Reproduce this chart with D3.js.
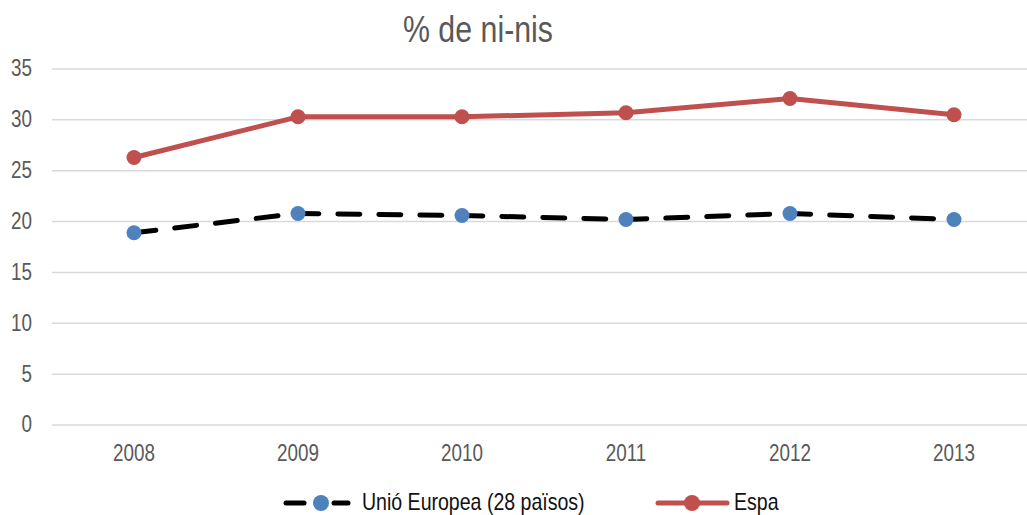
<!DOCTYPE html>
<html>
<head>
<meta charset="utf-8">
<script src="https://cdn.jsdelivr.net/npm/d3@7"></script>
<style>
  body { margin: 0; background: #fff; }
  text { font-family: "Liberation Sans", Arial, sans-serif; fill: #595959; }
</style>
</head>
<body>
<svg id="chart" width="1027" height="515"></svg>
<script>
const years = ['2008', '2009', '2010', '2011', '2012', '2013']
const euValues = [18.9, 20.8, 20.6, 20.2, 20.8, 20.2]
const spainValues = [26.3, 30.3, 30.3, 30.7, 32.1, 30.5]
const yTicks = [0, 5, 10, 15, 20, 25, 30, 35]
const seriesNames = ['Unió Europea (28 països)', 'Espa']

const width = 1027
const height = 515
const narrow = 0.82  // no Arial Narrow here, so squeeze Liberation Sans
const svg = d3.select('#chart')

const x = d3.scaleBand().domain(years).range([52, 1036])
const y = d3.scaleLinear().domain([0, 35]).range([425, 69])

// title
svg.append('text').attr('transform', `translate(478,42) scale(${narrow},1)`)
    .attr('text-anchor', 'middle')
    .style('font-size', '37px').text('% de ni-nis')

// grid
svg.append('g').selectAll('line').data(yTicks).enter().append('line')
    .attr('x1', 52).attr('x2', width)
    .attr('y1', d => y(d)).attr('y2', d => y(d))
    .attr('stroke', '#d9d9d9').attr('stroke-width', 1.5)

// y axis
const yAxis = d3.axisLeft(y).tickValues(yTicks).tickSize(0)
const yg = svg.append('g').attr('transform', 'translate(52,0)').call(yAxis)
yg.select('.domain').remove()
yg.selectAll('text').style('font-size', '23px').attr('fill', '#595959')
    .attr('x', -20 / narrow).attr('dy', '0.3em')
    .attr('transform', `scale(${narrow},1)`)

// x axis
const xAxis = d3.axisBottom(x).tickSize(0).tickPadding(20)
const xg = svg.append('g').attr('transform', 'translate(0,425)').call(xAxis)
xg.select('.domain').remove()
xg.selectAll('text').style('font-size', '23px').attr('fill', '#595959')
    .attr('transform', `scale(${narrow},1)`)

const cx = d => x(d) + x.bandwidth() / 2
const line = d3.line().x((d, i) => cx(years[i])).y(d => y(d))

// EU dashed
svg.append('path').datum(euValues).attr('d', line)
    .attr('fill', 'none').attr('stroke', '#000').attr('stroke-width', 5)
    .attr('stroke-dasharray', '22,19').attr('stroke-linecap', 'round')
svg.append('g').selectAll('circle').data(euValues).enter().append('circle')
    .attr('cx', (d, i) => cx(years[i])).attr('cy', d => y(d)).attr('r', 7.5)
    .attr('fill', '#4f81bd')

// Spain
svg.append('path').datum(spainValues).attr('d', line)
    .attr('fill', 'none').attr('stroke', '#c0504d').attr('stroke-width', 5)
    .attr('stroke-linejoin', 'round')
svg.append('g').selectAll('circle').data(spainValues).enter().append('circle')
    .attr('cx', (d, i) => cx(years[i])).attr('cy', d => y(d)).attr('r', 7.5)
    .attr('fill', '#c0504d')

// legend
const lg = svg.append('g')
lg.append('line').attr('x1', 286).attr('x2', 304).attr('y1', 503).attr('y2', 503)
    .attr('stroke', '#000').attr('stroke-width', 5).attr('stroke-linecap', 'round')
lg.append('line').attr('x1', 334).attr('x2', 348).attr('y1', 503).attr('y2', 503)
    .attr('stroke', '#000').attr('stroke-width', 5).attr('stroke-linecap', 'round')
lg.append('circle').attr('cx', 321).attr('cy', 503).attr('r', 8).attr('fill', '#4f81bd')
lg.append('text').attr('transform', `translate(362,510) scale(0.85,1)`)
    .style('font-size', '23px').style('fill', '#111').text(seriesNames[0])

lg.append('line').attr('x1', 658).attr('x2', 727).attr('y1', 503).attr('y2', 503)
    .attr('stroke', '#c0504d').attr('stroke-width', 5).attr('stroke-linecap', 'round')
lg.append('circle').attr('cx', 692).attr('cy', 503).attr('r', 8).attr('fill', '#c0504d')
lg.append('text').attr('transform', `translate(734,510) scale(0.85,1)`)
    .style('font-size', '23px').style('fill', '#111').text(seriesNames[1])
</script>
</body>
</html>
